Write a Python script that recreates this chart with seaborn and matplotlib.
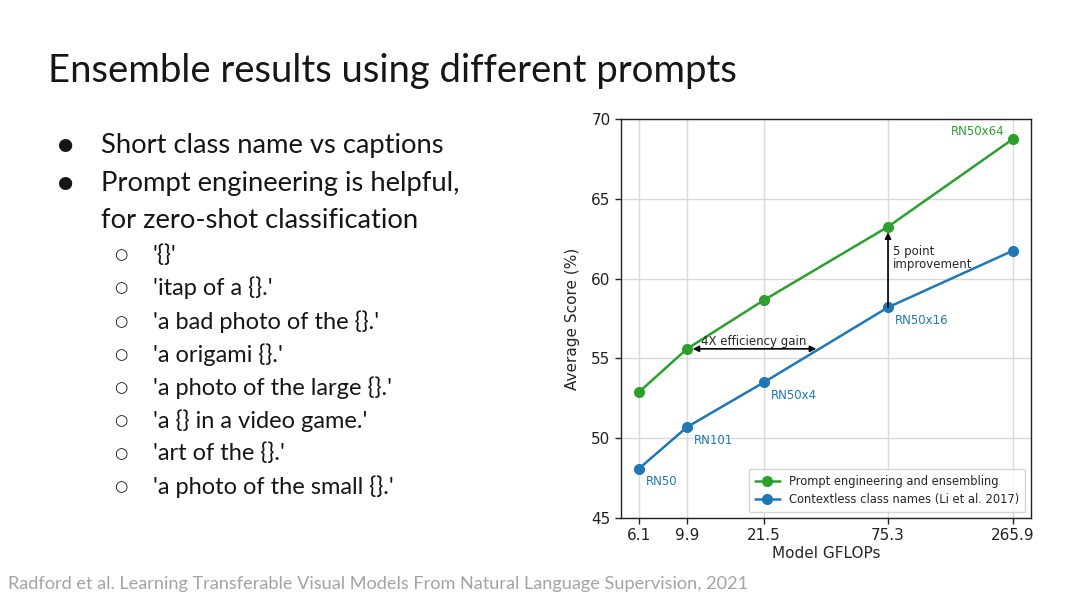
import numpy as np
import pandas as pd
import seaborn as sns
import matplotlib.pyplot as plt
from matplotlib.ticker import NullLocator

# data
gflops = [6.1, 9.9, 21.5, 75.3, 265.9]
model_names = ['RN50', 'RN101', 'RN50x4', 'RN50x16', 'RN50x64']
prompt_scores = [52.9, 55.6, 58.65, 63.25, 68.75]
contextless_scores = [48.1, 50.7, 53.5, 58.2, 61.75]
series_names = ['Prompt engineering and ensembling',
                'Contextless class names (Li et al. 2017)']
palette = {series_names[0]: '#2ca02c', series_names[1]: '#1f77b4'}

title = 'Ensemble results using different prompts'
bullets = ['Short class name vs captions', 'Prompt engineering is helpful,']
bullet_cont = 'for zero-shot classification'
prompts = ["'{}'", "'itap of a {}.'", "'a bad photo of the {}.'",
           "'a origami {}.'", "'a photo of the large {}.'",
           "'a {} in a video game.'", "'art of the {}.'",
           "'a photo of the small {}.'"]
citation = ('Radford et al. Learning Transferable Visual Models From '
            'Natural Language Supervision, 2021')

df = pd.DataFrame({
    'GFLOPs': gflops * 2,
    'Score': prompt_scores + contextless_scores,
    'Series': [series_names[0]] * 5 + [series_names[1]] * 5,
})

sns.set_theme(style='ticks')
plt.rcParams['font.family'] = ['DejaVu Sans']

fig = plt.figure(figsize=(10.8, 6.08), dpi=100)
fig.patch.set_facecolor('white')

# slide text
slide_font = ['Lato', 'DejaVu Sans']
ink = '#161616'
fig.text(48 / 1080, 1 - 71 / 608, title, fontsize=27.5, family=slide_font,
         color=ink, va='center', ha='left')
for i, line in enumerate(bullets):
    y = 1 - (145 + i * 38) / 608
    fig.text(57 / 1080, y, '\u25cf', fontsize=12.5, family=['DejaVu Sans'],
             va='center', ha='left', color=ink)
    fig.text(101 / 1080, y, line, fontsize=19.7, family=slide_font,
             va='center', ha='left', color=ink)
fig.text(101 / 1080, 1 - 220 / 608, bullet_cont, fontsize=19.7,
         family=slide_font, va='center', ha='left', color=ink)
for i, p in enumerate(prompts):
    y = 1 - (255 + i * 33.1) / 608
    fig.text(114 / 1080, y, '\u25cb', fontsize=11, family=['DejaVu Sans'],
             va='center', ha='left', color=ink)
    fig.text(153 / 1080, y, p, fontsize=17, family=slide_font,
             va='center', ha='left', color=ink)
fig.text(8 / 1080, 1 - 584 / 608, citation, fontsize=13.1, family=slide_font,
         color='#a3a3a3', va='center', ha='left')

# chart
ax = fig.add_axes([621 / 1080, 1 - 518 / 608, 410 / 1080, 399 / 608])
sns.lineplot(data=df, x='GFLOPs', y='Score', hue='Series',
             hue_order=series_names, palette=palette, marker='o',
             markersize=8, markeredgewidth=0, linewidth=1.8, ax=ax)
ax.set_xscale('log')
ax.set_xticks(gflops)
ax.set_xticklabels([str(g) for g in gflops])
ax.xaxis.set_minor_locator(NullLocator())
ax.set_xlim(5.08, 319)
ax.set_ylim(45, 70)
ax.set_yticks(np.arange(45, 71, 5))
ax.grid(True, color='#d9d9d9', linewidth=1)
ax.tick_params(labelsize=11, length=4, width=1, colors='#222222')
for s in ax.spines.values():
    s.set_color('#222222')
    s.set_linewidth(1)
ax.set_xlabel('Model GFLOPs', fontsize=11, labelpad=2)
ax.set_ylabel('Average Score (%)', fontsize=11, labelpad=8)

leg = ax.legend(loc='lower right', fontsize=8.3, frameon=True,
                handlelength=2.2, borderpad=0.5)
leg.get_frame().set_edgecolor('#cccccc')

# model name labels
for i, name in enumerate(model_names[:4]):
    ax.annotate(name, (gflops[i], contextless_scores[i]),
                xytext=(5, -12), textcoords='offset points',
                fontsize=8.5, color='#1f77b4')
ax.annotate(model_names[4], (gflops[4], prompt_scores[4]),
            xytext=(-6, 3), textcoords='offset points', ha='right',
            fontsize=8.5, color='#2ca02c')

# 4x efficiency arrow
ax.annotate('', xy=(36.5, prompt_scores[1]), xytext=(gflops[1], prompt_scores[1]),
            arrowprops=dict(arrowstyle='<|-|>', color='black', lw=1.2,
                            mutation_scale=9, shrinkA=4, shrinkB=0))
ax.text(np.sqrt(gflops[1] * 36.5) * 1.02, prompt_scores[1] + 0.05,
        '4X efficiency gain', fontsize=8.5, ha='center', va='bottom')

# 5 point arrow
ax.annotate('', xy=(gflops[3], prompt_scores[3]), xytext=(gflops[3], contextless_scores[3]),
            arrowprops=dict(arrowstyle='-|>', color='black', lw=1.2,
                            mutation_scale=9, shrinkA=0, shrinkB=4))
ax.text(gflops[3] * 1.05, 61.3, '5 point\nimprovement', fontsize=8.5,
        ha='left', va='center', linespacing=1.0)

fig.savefig('out.png', dpi=100, facecolor='white')
